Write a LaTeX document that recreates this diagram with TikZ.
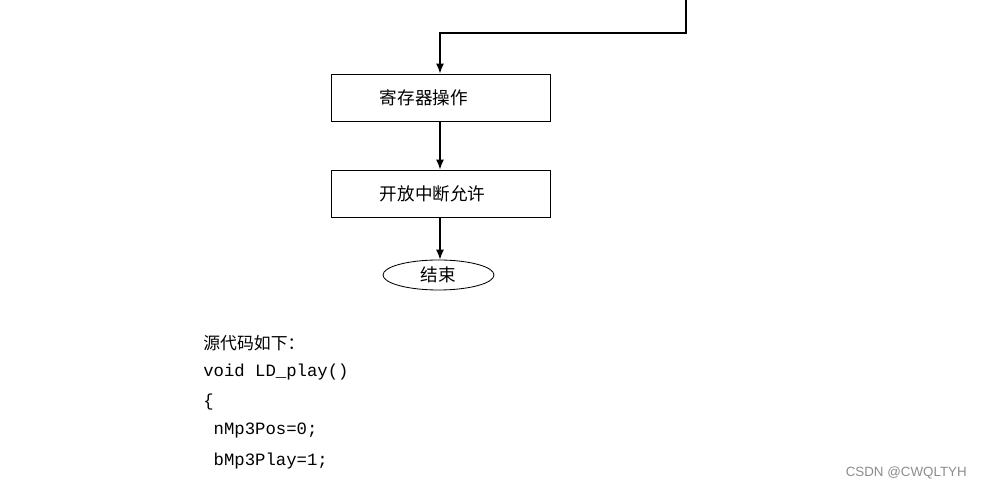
\documentclass[tikz,border=0pt]{standalone}
\usepackage{fontspec}
\setmonofont{Liberation Mono}
\setsansfont{Liberation Sans}
\newfontfamily\cjk{Noto Sans CJK SC}
\usetikzlibrary{shapes.geometric, arrows.meta}

\begin{document}
\begin{tikzpicture}[x=0.025cm,y=-0.025cm,
  flowbox/.style={draw, line width=0.6pt, minimum width=5.475cm, minimum height=1.175cm,
    inner xsep=1.225cm, text width=3.025cm, align=left, font=\cjk\fontsize{12.5}{14}\selectfont},
  endbox/.style={draw, ellipse, line width=0.6pt, minimum width=2.775cm, minimum height=0.75cm,
    inner sep=0pt, font=\cjk\fontsize{12.5}{14}\selectfont},
  link/.style={line width=0.9pt, -{Latex[length=2.5mm,width=2mm]}},
  codeline/.style={anchor=west, inner sep=0pt, font=\ttfamily\fontsize{12.3}{14}\selectfont}]
\useasboundingbox (0,0) rectangle (982,490);
% flow chart
\coordinate (top) at (686,0);
\coordinate (bend) at (686,33);
\coordinate (turn) at (440,33);
\node[flowbox] (reg) at (440.5,97.5) {寄存器操作};
\node[flowbox] (enable) at (440.5,193.5) {开放中断允许};
\node[endbox] (stop) at (438.5,275) {结束};
\draw[link] (top) -- (bend) -- (turn) -- (reg.north -| turn);
\draw[link] (reg.south -| turn) -- (enable.north -| turn);
\draw[link] (enable.south -| turn) -- (stop.north -| turn);
% source code
\node[codeline, font=\cjk\fontsize{12}{14}\selectfont] (title) at (203,343) {源代码如下：};
\node[codeline] (line1) at (203,372) {void LD\_play()};
\node[codeline] (line2) at (203,402) {\{};
\node[codeline] (line3) at (203,431) {\ nMp3Pos=0;};
\node[codeline] (line4) at (203,461) {\ bMp3Play=1;};
% watermark
\node[anchor=east, inner sep=0pt, text=black!45, font=\sffamily\fontsize{9.5}{11}\selectfont] (mark) at (967,473) {CSDN @CWQLTYH};
\end{tikzpicture}
\end{document}
